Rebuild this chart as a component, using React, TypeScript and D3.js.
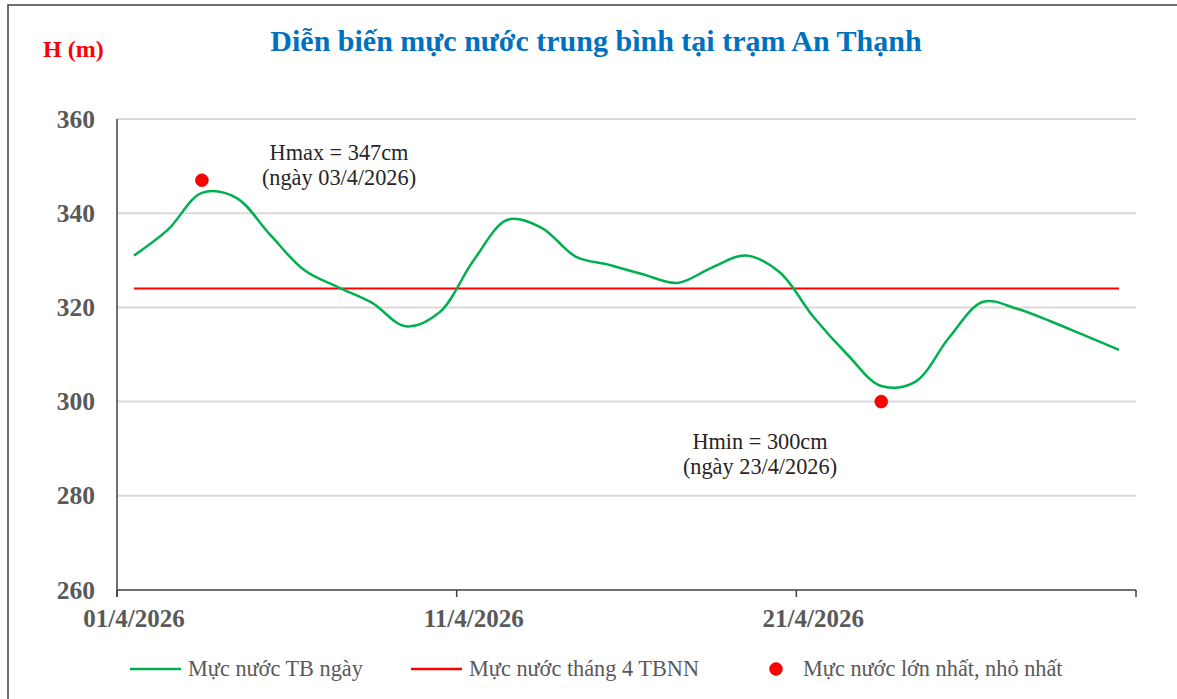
import React, { useRef, useEffect } from "react";
import * as d3 from "d3";

// April 2026, daily mean water level at An Thanh (cm)
const days = d3.range(1, 31);
const dailyLevel = [
  331, 336.5, 344.3, 343.3, 335.5, 328, 324.3, 321, 316, 319,
  330, 338.6, 336.9, 330.8, 329, 327, 325.2, 328.4, 331, 327.5,
  318, 310, 303.3, 304.2, 313.6, 321.2, 319.7, 317, 314, 311,
];
const monthAvg = 324;
const extremes = [
  { day: 3, value: 347, label: "Hmax = 347cm", date: "(ngày 03/4/2026)" },
  { day: 23, value: 300, label: "Hmin = 300cm", date: "(ngày 23/4/2026)" },
];
const yTicks = [260, 280, 300, 320, 340, 360];
const xLabelDays = [1, 11, 21];
const xTickDays = [1, 11, 21, 31];
const legendItems = ["Mực nước TB ngày", "Mực nước tháng 4 TBNN", "Mực nước lớn nhất, nhỏ nhất"];

const App = () => {
  const chartRef = useRef<SVGSVGElement>(null);

  useEffect(() => {
    drawChart();
  }, []);

  const drawChart = () => {
    if (!chartRef.current) return;
    const svg = d3.select(chartRef.current);
    svg.selectAll("*").remove();

    const serif = '"Liberation Serif", "Times New Roman", serif';
    const left = 117, right = 1136, top = 119, bottom = 590;

    const x = d3.scaleBand<number>().domain(days).range([left, right]).padding(0);
    const cx = (d: number) => (x(d) as number) + x.bandwidth() / 2;
    const y = d3.scaleLinear().domain([260, 360]).range([bottom, top]);

    // frame
    svg.append("rect")
      .attr("x", 8).attr("y", 5)
      .attr("width", 1200).attr("height", 720)
      .attr("fill", "#fff")
      .attr("stroke", "#404040")
      .attr("stroke-width", 1.5);

    // title
    svg.append("text")
      .attr("x", 596).attr("y", 51)
      .attr("text-anchor", "middle")
      .style("font-family", serif)
      .style("font-weight", "bold")
      .style("font-size", "30px")
      .attr("fill", "#0070C0")
      .text("Diễn biến mực nước trung bình tại trạm An Thạnh");

    svg.append("text")
      .attr("x", 43).attr("y", 57)
      .style("font-family", serif)
      .style("font-weight", "bold")
      .style("font-size", "24px")
      .attr("fill", "#FF0000")
      .text("H (m)");

    // gridlines
    svg.selectAll(".grid")
      .data(yTicks.filter((t) => t > 260))
      .enter()
      .append("line")
      .attr("x1", left).attr("x2", right)
      .attr("y1", (d) => y(d)).attr("y2", (d) => y(d))
      .attr("stroke", "#D9D9D9")
      .attr("stroke-width", 2);

    // y labels
    svg.selectAll(".ylab")
      .data(yTicks)
      .enter()
      .append("text")
      .attr("x", 95)
      .attr("y", (d) => y(d) + 8.5)
      .attr("text-anchor", "end")
      .style("font-family", serif)
      .style("font-weight", "bold")
      .style("font-size", "25.5px")
      .attr("fill", "#595959")
      .text((d) => d);

    // axes
    svg.append("line")
      .attr("x1", left).attr("x2", left)
      .attr("y1", top).attr("y2", bottom + 7)
      .attr("stroke", "#404040").attr("stroke-width", 1.5);
    svg.append("line")
      .attr("x1", left).attr("x2", right)
      .attr("y1", bottom).attr("y2", bottom)
      .attr("stroke", "#404040").attr("stroke-width", 1.5);
    svg.selectAll(".xtick")
      .data(xTickDays)
      .enter()
      .append("line")
      .attr("x1", (d) => (d <= 30 ? (x(d) as number) : right))
      .attr("x2", (d) => (d <= 30 ? (x(d) as number) : right))
      .attr("y1", bottom).attr("y2", bottom + 7)
      .attr("stroke", "#404040").attr("stroke-width", 1.5);

    svg.selectAll(".xlab")
      .data(xLabelDays)
      .enter()
      .append("text")
      .attr("x", (d) => cx(d))
      .attr("y", 627)
      .attr("text-anchor", "middle")
      .style("font-family", serif)
      .style("font-weight", "bold")
      .style("font-size", "25px")
      .attr("fill", "#595959")
      .text((d) => `${String(d).padStart(2, "0")}/4/2026`);

    // monthly average line
    svg.append("line")
      .attr("x1", cx(1)).attr("x2", cx(30))
      .attr("y1", y(monthAvg)).attr("y2", y(monthAvg))
      .attr("stroke", "#FF0000").attr("stroke-width", 2);

    // daily line
    const line = d3.line<number>()
      .x((d, i) => cx(days[i]))
      .y((d) => y(d))
      .curve(d3.curveCatmullRom.alpha(0.5));
    svg.append("path")
      .datum(dailyLevel)
      .attr("d", line)
      .attr("fill", "none")
      .attr("stroke", "#00B050")
      .attr("stroke-width", 2.5);

    // extremes
    svg.selectAll(".ext")
      .data(extremes)
      .enter()
      .append("circle")
      .attr("cx", (d) => cx(d.day))
      .attr("cy", (d) => y(d.value))
      .attr("r", 6.5)
      .attr("fill", "#FF0000")
      .attr("stroke", "#C00000")
      .attr("stroke-width", 0.5);

    const noteX = [339, 760];
    const noteY = [160, 449];
    extremes.forEach((d, i) => {
      const t = svg.append("text")
        .attr("text-anchor", "middle")
        .style("font-family", serif)
        .style("font-size", "22.3px")
        .attr("fill", "#262626");
      t.append("tspan").attr("x", noteX[i]).attr("y", noteY[i]).text(d.label);
      t.append("tspan").attr("x", noteX[i]).attr("y", noteY[i] + 25).text(d.date);
    });

    // legend
    const legX = [130, 411, 770];
    const legY = 669;
    legendItems.forEach((name, i) => {
      const g = svg.append("g");
      if (i < 2) {
        g.append("line")
          .attr("x1", legX[i]).attr("x2", legX[i] + 51)
          .attr("y1", legY).attr("y2", legY)
          .attr("stroke", i === 0 ? "#00B050" : "#FF0000")
          .attr("stroke-width", 2.5);
      } else {
        g.append("circle")
          .attr("cx", legX[i] + 6).attr("cy", legY)
          .attr("r", 6.5)
          .attr("fill", "#FF0000")
          .attr("stroke", "#C00000")
          .attr("stroke-width", 0.5);
      }
      g.append("text")
        .attr("x", i < 2 ? legX[i] + 58 : legX[i] + 33)
        .attr("y", legY + 7)
        .style("font-family", serif)
        .style("font-size", "22.3px")
        .attr("fill", "#595959")
        .text(name);
    });
  };

  return (
    <svg
      ref={chartRef}
      width={1177}
      height={699}
      style={{ position: "absolute", left: 0, top: 0, background: "#fff" }}
    />
  );
};

export default App;
